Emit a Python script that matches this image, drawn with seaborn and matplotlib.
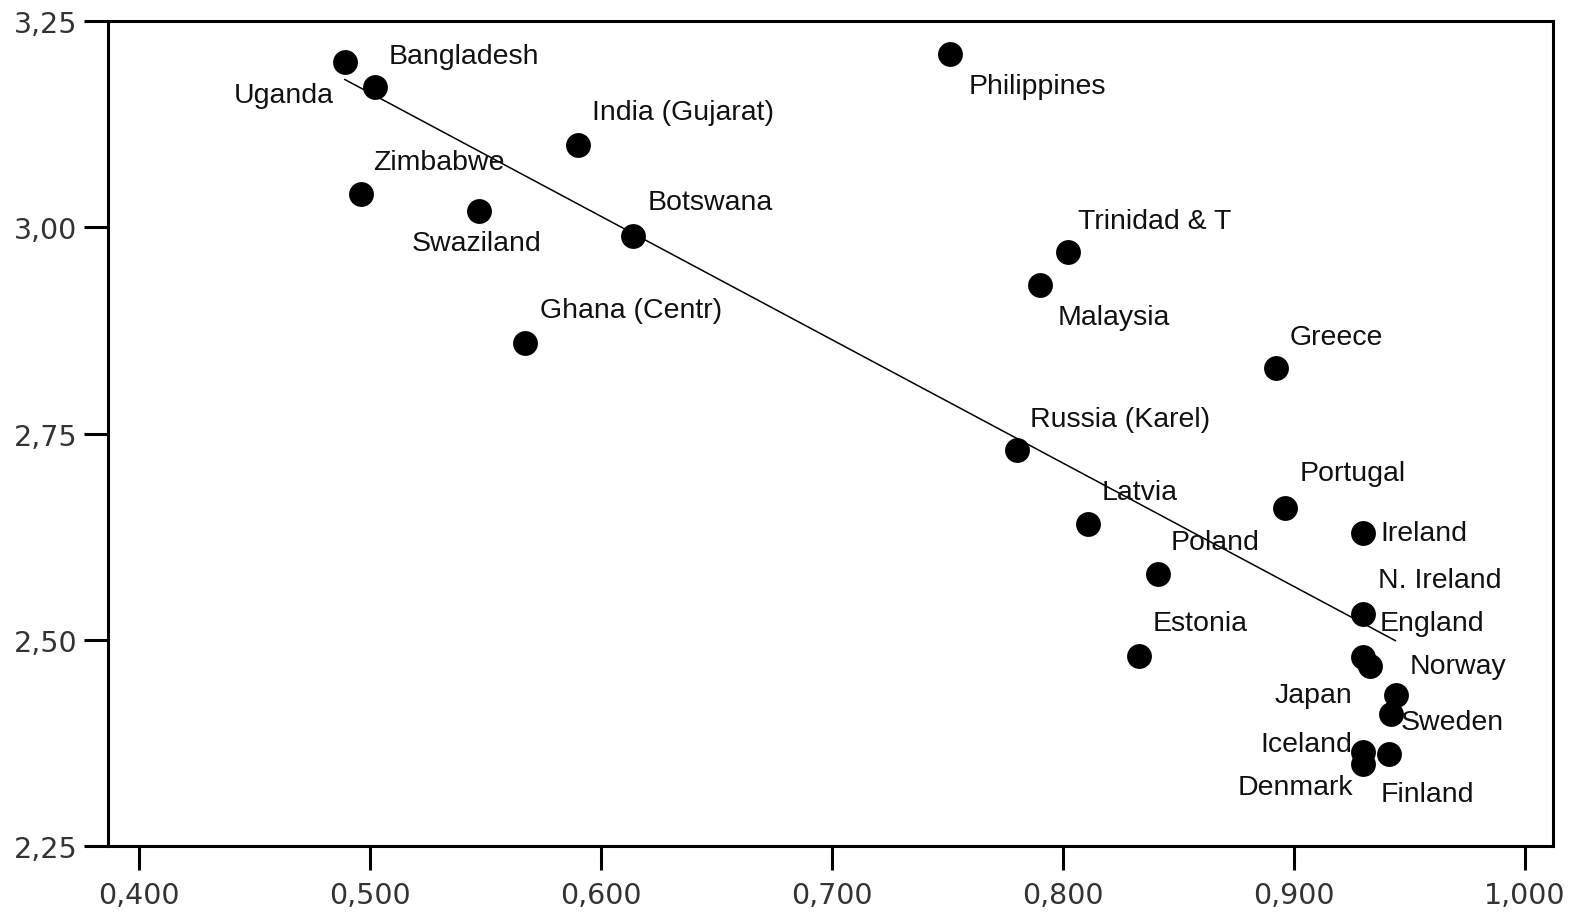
import matplotlib
matplotlib.use("Agg")
import matplotlib.pyplot as plt
import seaborn as sns
import pandas as pd

# ---- data ----
countries = ["Uganda", "Bangladesh", "Philippines", "India (Gujarat)", "Zimbabwe",
             "Swaziland", "Botswana", "Ghana (Centr)", "Trinidad & T", "Malaysia",
             "Greece", "Russia (Karel)", "Portugal", "Latvia", "Ireland", "Poland",
             "Estonia", "N. Ireland", "England", "Japan", "Norway", "Sweden",
             "Iceland", "Denmark", "Finland"]
x_values = [0.489, 0.502, 0.751, 0.590, 0.496,
            0.547, 0.614, 0.567, 0.802, 0.790,
            0.892, 0.780, 0.896, 0.811, 0.930, 0.841,
            0.833, 0.930, 0.930, 0.933, 0.944, 0.942,
            0.941, 0.930, 0.930]
y_values = [3.20, 3.17, 3.21, 3.10, 3.04,
            3.02, 2.99, 2.86, 2.97, 2.93,
            2.83, 2.73, 2.66, 2.64, 2.63, 2.58,
            2.48, 2.531, 2.479, 2.468, 2.433, 2.410,
            2.361, 2.364, 2.349]

x_ticks = [0.4, 0.5, 0.6, 0.7, 0.8, 0.9, 1.0]
x_tick_labels = ["0,400", "0,500", "0,600", "0,700", "0,800", "0,900", "1,000"]
y_ticks = [2.25, 2.50, 2.75, 3.00, 3.25]
y_tick_labels = ["2,25", "2,50", "2,75", "3,00", "3,25"]

# label placement (pixel offsets from the point, horizontal alignment)
label_dx = [-11, 14, 19, 14, 12, -2, 14, 15, 10, 18, 14, 13, 15, 13, 17, 13, 13, 15, 16, -18, 14, 10, -36, -10, 17]
label_dy = [33, -31, 32, -33, -32, 32, -34, -33, -31, 32, -31, -31, -35, -32, 0, -32, -33, -34, -34, 29, -29, 8, -10, 35, 30]
label_ha = ["right", "left", "left", "left", "left", "center", "left", "left", "left", "left",
            "left", "left", "left", "left", "left", "left", "left", "left", "left", "right",
            "left", "left", "right", "right", "left"]

df = pd.DataFrame({"country": countries, "x": x_values, "y": y_values})

sns.set_theme(style="white")
plt.rcParams["font.family"] = ["Liberation Sans", "DejaVu Sans"]

fig = plt.figure(figsize=(15.75, 9.2), dpi=100)
ax = fig.add_axes([0.0686, 0.0793, 0.986 - 0.0686, 0.9761 - 0.0793])

sns.regplot(data=df, x="x", y="y", scatter=False, ci=None, truncate=True,
            line_kws=dict(color="black", lw=1.1, zorder=2), ax=ax)
sns.scatterplot(data=df, x="x", y="y", s=320, color="black", edgecolor="black",
                linewidth=0, zorder=3, ax=ax, legend=False)

for i, row in df.iterrows():
    ax.annotate(row["country"], (row["x"], row["y"]),
                xytext=(label_dx[i], -label_dy[i]), textcoords="offset pixels",
                ha=label_ha[i], va="center", fontsize=20.5, color="#111111", zorder=4)

ax.set_xlim(0.3866, 1.0121)
ax.set_ylim(2.25, 3.25)
ax.set_xticks(x_ticks)
ax.set_xticklabels(x_tick_labels, fontfamily="DejaVu Sans")
ax.set_yticks(y_ticks)
ax.set_yticklabels(y_tick_labels, fontfamily="DejaVu Sans")
ax.set_xlabel("")
ax.set_ylabel("")

ax.tick_params(axis="both", direction="out", length=17, width=2.2, labelsize=20.5,
               color="black", labelcolor="#333333", left=True, bottom=True)
ax.tick_params(axis="x", pad=8)
ax.tick_params(axis="y", pad=5)
for sp in ax.spines.values():
    sp.set_visible(True)
    sp.set_color("black")
    sp.set_linewidth(2.2)

fig.savefig("out.png", dpi=100, facecolor="white")
